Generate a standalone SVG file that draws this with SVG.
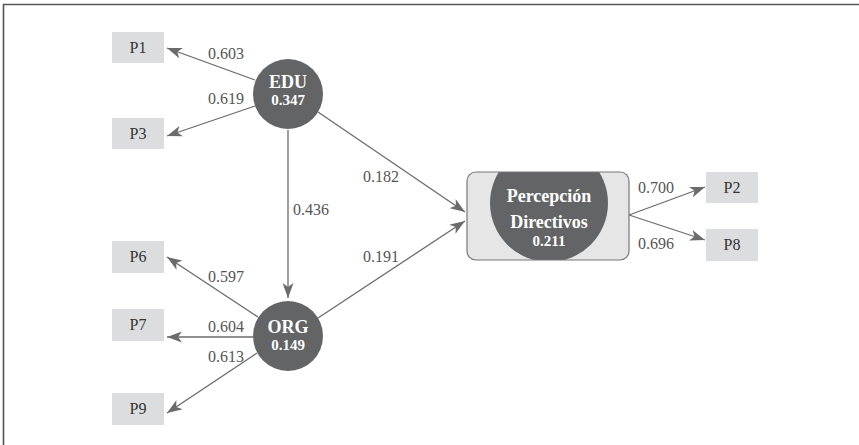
<svg xmlns="http://www.w3.org/2000/svg" width="859" height="445" viewBox="0 0 859 445">
<style>
.ind rect{fill:#dcdddf}
.ind text{font-family:"Liberation Serif",serif;font-size:16px;fill:#333;text-anchor:middle}
.lat circle{fill:#636466}
.lat text{font-family:"Liberation Serif",serif;font-weight:bold;fill:#fff;text-anchor:middle}
.edge line{stroke:#6b6b6b;stroke-width:1.3;marker-end:url(#ah)}
.lbl{font-family:"Liberation Serif",serif;font-size:16px;fill:#555}
</style>
<defs>
<marker id="ah" markerUnits="userSpaceOnUse" markerWidth="15" markerHeight="11" refX="15" refY="5.5" orient="auto">
<path d="M0,0 L15,5.5 L0,11 L4,5.5 z" fill="#6b6b6b"/>
</marker>
<clipPath id="pclip"><rect x="467" y="172" width="162" height="88" rx="9"/></clipPath>
</defs>
<rect width="859" height="445" fill="#fff"/>
<g id="frame" stroke="#555" stroke-width="1.6" fill="none">
<line x1="3" y1="4.5" x2="859" y2="4.5"/>
<line x1="3.5" y1="4" x2="3.5" y2="445"/>
</g>
<g id="connectors" class="edge">
<line x1="255" y1="80" x2="167" y2="48"/>
<line x1="255" y1="106" x2="167" y2="136"/>
<line x1="288" y1="130" x2="288" y2="298"/>
<line x1="318" y1="112" x2="465" y2="212"/>
<line x1="318" y1="318" x2="465" y2="221"/>
<line x1="258" y1="317" x2="167" y2="257"/>
<line x1="253" y1="337" x2="167" y2="337"/>
<line x1="257" y1="353" x2="167" y2="413"/>
<line x1="629" y1="215" x2="705" y2="187"/>
<line x1="629" y1="215" x2="705" y2="240"/>
</g>
<g id="labels" class="lbl">
<text x="208" y="59">0.603</text>
<text x="208" y="104">0.619</text>
<text x="293" y="215">0.436</text>
<text x="363" y="182">0.182</text>
<text x="363" y="262">0.191</text>
<text x="208" y="282">0.597</text>
<text x="208" y="332">0.604</text>
<text x="208" y="362">0.613</text>
<text x="638" y="193">0.700</text>
<text x="638" y="249">0.696</text>
</g>
<g id="P1" class="ind"><rect x="112" y="32" width="52" height="31"/><text x="138" y="53">P1</text></g>
<g id="P3" class="ind"><rect x="112" y="118" width="52" height="31"/><text x="138" y="139">P3</text></g>
<g id="P6" class="ind"><rect x="112" y="241" width="52" height="32"/><text x="138" y="262">P6</text></g>
<g id="P7" class="ind"><rect x="112" y="309" width="52" height="32"/><text x="138" y="330">P7</text></g>
<g id="P9" class="ind"><rect x="112" y="393" width="52" height="32"/><text x="138" y="414">P9</text></g>
<g id="P2" class="ind"><rect x="706" y="172" width="52" height="31"/><text x="732" y="193">P2</text></g>
<g id="P8" class="ind"><rect x="706" y="229" width="52" height="32"/><text x="732" y="250">P8</text></g>
<g id="EDU" class="lat"><circle cx="288" cy="94" r="35"/><text x="288" y="88" font-size="18">EDU</text><text x="288" y="105" font-size="15">0.347</text></g>
<g id="ORG" class="lat"><circle cx="288" cy="336" r="35"/><text x="288" y="333" font-size="18">ORG</text><text x="288" y="350" font-size="15">0.149</text></g>
<g id="PD" class="lat">
<rect x="467" y="172" width="162" height="88" rx="9" fill="#e6e6e7"/>
<circle cx="549" cy="203" r="59" clip-path="url(#pclip)"/>
<rect x="467" y="172" width="162" height="88" rx="9" fill="none" stroke="#777" stroke-width="1.2"/>
<text x="549" y="202" font-size="18">Percepción</text>
<text x="549" y="228" font-size="18">Directivos</text>
<text x="549" y="246" font-size="15">0.211</text>
</g>
</svg>
